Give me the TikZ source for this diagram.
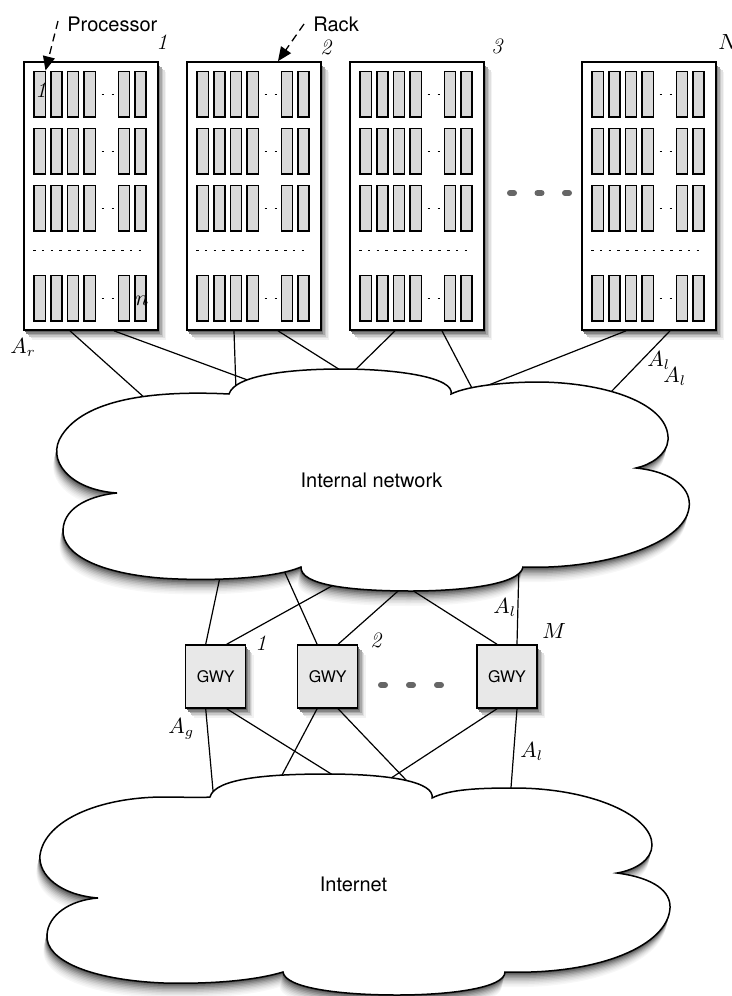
\documentclass[tikz,border=0pt]{standalone}
\usepackage{fontspec}
\newfontfamily\helv{TeX Gyre Heros}
\usetikzlibrary{shadows,arrows.meta}

\newcommand\cloudIN{(117,493) .. controls (70,490) and (45,460) .. (62,435) .. controls (85,400) and (150,390) .. (229,394) .. controls (235,375) and (290,369) .. (341,369) .. controls (400,369) and (455,378) .. (451,394) .. controls (470,385) and (510,382) .. (540,382) .. controls (610,383) and (670,405) .. (668,440) .. controls (667,455) and (650,465) .. (636,468) .. controls (675,472) and (692,490) .. (689,508) .. controls (684,545) and (600,570) .. (523,567) .. controls (520,585) and (460,591) .. (411,591) .. controls (350,591) and (300,585) .. (301,567) .. controls (270,580) and (200,581) .. (160,578) .. controls (100,573) and (62,555) .. (63,530) .. controls (64,505) and (95,495) .. (117,493) -- cycle}

\newcommand\cloudNET{(210,797) .. controls (215,778) and (270,774) .. (327,774) .. controls (390,774) and (435,782) .. (432,798) .. controls (450,789) and (480,788) .. (514,788) .. controls (590,788) and (652,815) .. (652,845) .. controls (652,860) and (635,870) .. (617,873) .. controls (655,878) and (671,892) .. (670,908) .. controls (668,945) and (600,975) .. (505,972) .. controls (505,988) and (450,995) .. (397,995) .. controls (340,995) and (285,988) .. (283,972) .. controls (250,982) and (200,984) .. (164,983) .. controls (90,980) and (45,960) .. (47,935) .. controls (48,915) and (70,900) .. (98,898) .. controls (60,895) and (38,875) .. (40,855) .. controls (45,820) and (100,797) .. (164,797) .. controls (185,797) and (200,798) .. (210,797) -- cycle}

\begin{document}
\begin{tikzpicture}[x=0.5pt,y=-0.5pt,
  softshadow/.style={
    drop shadow={shadow xshift=4pt,shadow yshift=-5pt,opacity=1,fill=black!5},
    drop shadow={shadow xshift=3.3pt,shadow yshift=-4.2pt,opacity=1,fill=black!12},
    drop shadow={shadow xshift=2.6pt,shadow yshift=-3.4pt,opacity=1,fill=black!22},
    drop shadow={shadow xshift=1.9pt,shadow yshift=-2.6pt,opacity=1,fill=black!34},
    drop shadow={shadow xshift=1.2pt,shadow yshift=-1.8pt,opacity=1,fill=black!48},
    drop shadow={shadow xshift=0.6pt,shadow yshift=-1pt,opacity=1,fill=black!62}},
  rack/.style={draw, line width=0.85pt, fill=white, minimum width=67pt, minimum height=134pt, inner sep=0pt, softshadow},
  gwy/.style={draw, line width=0.75pt, fill=black!9, minimum width=30pt, minimum height=31.5pt, inner sep=0pt, font=\helv\fontsize{8}{9}\selectfont, softshadow},
  proc/.style={draw, line width=0.8pt, fill=black!15},
  smalldash/.style={line width=0.6pt, dash pattern=on 1.35pt off 3.65pt},
  rowdots/.style={line width=0.6pt, dash pattern=on 1.3pt off 3.1pt},
  bigdots/.style={line width=3pt, line cap=round, dash pattern=on 2pt off 11.75pt, draw=black!60},
  link/.style={line width=0.6pt},
  ptr/.style={line width=0.65pt, dash pattern=on 4pt off 2.5pt, -{Triangle[length=7pt,width=6pt]}},
  cloudstyle/.style={draw, line width=0.75pt, fill=white},
  sanslbl/.style={font=\helv\fontsize{10}{12}\selectfont, inner sep=0pt},
  mathlbl/.style={font=\fontsize{10.5}{12}\selectfont, inner sep=0pt},
  numlbl/.style={font=\fontsize{11}{13}\selectfont\itshape, inner sep=0pt}
]
\useasboundingbox (0,0) rectangle (732,996);

% cloud shadows (opaque graded layers, outermost first)
\foreach \i/\g in {10/3,9/6,8/10,7/15,6/21,5/28,4/36,3/45,2/55,1/66} {
  \fill[black!\g, shift={(-\i*0.35,\i*1.5)}] \cloudIN;
  \fill[black!\g, shift={(-\i*0.35,\i*1.5)}] \cloudNET;
}

% racks
\node[rack] (r1) at (91,196) {};
\node[rack] (r2) at (254,196) {};
\node[rack] (r3) at (417,196) {};
\node[rack] (rN) at (649,196) {};

\foreach \rx in {24,187,350,582} {
  \foreach \ry in {71.5,128.5,185.5,275.5} {
    \foreach \cx in {10,26.7,43.3,60,94.3,110.7} {
      \draw[proc] (\rx+\cx,\ry) rectangle ++(11.3,45.5);
    }
    \draw[smalldash] (\rx+77.7,\ry+22.75) -- (\rx+94.3,\ry+22.75);
  }
  \draw[rowdots] (\rx+9,250.7) -- (\rx+117,250.7);
}

% gateways
\node[gwy] (g1) at (215.7,676.5) {GWY};
\node[gwy] (g2) at (327.7,676.5) {GWY};
\node[gwy] (gM) at (507,676.5) {GWY};

% ellipsis dots
\coordinate (rd1) at (510,193);
\coordinate (rd2) at (569,193);
\draw[bigdots] (rd1) -- (rd2);
\coordinate (gd1) at (381,685);
\coordinate (gd2) at (441,685);
\draw[bigdots, dash pattern=on 2pt off 12pt] (gd1) -- (gd2);

% attach points on the internal network
\coordinate (a1) at (146,399);
\coordinate (a2) at (253,382);
\coordinate (a3) at (236,390);
\coordinate (a4) at (345,373);
\coordinate (a5) at (351,374);
\coordinate (a6) at (474,392);
\coordinate (a7) at (476,390);
\coordinate (a8) at (606.5,396.6);
\coordinate (b1) at (220,577);
\coordinate (b2) at (336.4,583.5);
\coordinate (b3) at (283,568.4);
\coordinate (b4) at (400.7,588.7);
\coordinate (b5) at (410.8,589.3);
\coordinate (b6) at (519,563);
% attach points on the internet
\coordinate (c1) at (213.4,795);
\coordinate (c2) at (334,775.7);
\coordinate (c3) at (279.7,779.4);
\coordinate (c4) at (411.4,785.6);
\coordinate (c5) at (383.8,782.8);
\coordinate (c6) at (510.6,793);

% rack links
\draw[link] ([xshift=-10.5pt]r1.south) -- (a1);
\draw[link] ([xshift=11.5pt]r1.south) -- (a2);
\draw[link] ([xshift=-10pt]r2.south) -- (a3);
\draw[link] ([xshift=12pt]r2.south) -- (a4);
\draw[link] ([xshift=-11pt]r3.south) -- (a5);
\draw[link] ([xshift=12.5pt]r3.south) -- (a6);
\draw[link] ([xshift=-11.5pt]rN.south) -- (a7);
\draw[link] ([xshift=10.5pt]rN.south) -- (a8);
% gateway links up
\draw[link] ([xshift=-5pt]g1.north) -- (b1);
\draw[link] ([xshift=5.5pt]g1.north) -- (b2);
\draw[link] ([xshift=-5.3pt]g2.north) -- (b3);
\draw[link] ([xshift=5.2pt]g2.north) -- (b4);
\draw[link] ([xshift=-5pt]gM.north) -- (b5);
\draw[link] ([xshift=5pt]gM.north) -- (b6);
% gateway links down
\draw[link] ([xshift=-5pt]g1.south) -- (c1);
\draw[link] ([xshift=5.5pt]g1.south) -- (c2);
\draw[link] ([xshift=-5.3pt]g2.south) -- (c3);
\draw[link] ([xshift=5.2pt]g2.south) -- (c4);
\draw[link] ([xshift=-5pt]gM.south) -- (c5);
\draw[link] ([xshift=5pt]gM.south) -- (c6);

% clouds
\draw[cloudstyle] \cloudIN;
\draw[cloudstyle] \cloudNET;
\node[sanslbl, anchor=base] (innet) at (371.5,487) {Internal network};
\node[sanslbl, anchor=base] (inet) at (353.5,891) {Internet};

% pointer labels
\node[sanslbl, anchor=base west] (plbl) at (67,31.7) {Processor};
\node[sanslbl, anchor=base west] (rlbl) at (313,31.7) {Rack};
\coordinate (ps) at (58,21);
\coordinate (pt) at (45.5,70.5);
\draw[ptr] (ps) -- (pt);
\coordinate (rs) at (304,24);
\draw[ptr] (rs) -- ([xshift=12pt]r2.north);

% numbers
\node[numlbl, anchor=base west] (n1) at (156,49) {1};
\node[numlbl, anchor=base west] (n2) at (320,54) {2};
\node[numlbl, anchor=base west] (n3) at (491,53) {3};
\node[mathlbl, anchor=base west] (nN) at (718,49) {$N$};
\node[numlbl, anchor=base west] (p1) at (35,97) {1};
\node[mathlbl, anchor=base west] (pn) at (135,305) {$n$};
\node[numlbl, anchor=base west] (gn1) at (255,650) {1};
\node[numlbl, anchor=base west] (gn2) at (370,647) {2};
\node[mathlbl, anchor=base west] (gnM) at (542,638) {$M$};

% link labels
\node[mathlbl, anchor=base west] (lr) at (10,353) {$A_r$};
\node[mathlbl, anchor=base west] (ll1) at (647,366) {$A_l$};
\node[mathlbl, anchor=base west] (ll2) at (663,382) {$A_l$};
\node[mathlbl, anchor=base west] (lg) at (168,733) {$A_g$};
\node[mathlbl, anchor=base west] (ll3) at (493,613) {$A_l$};
\node[mathlbl, anchor=base west] (ll4) at (520,757) {$A_l$};
\end{tikzpicture}
\end{document}
